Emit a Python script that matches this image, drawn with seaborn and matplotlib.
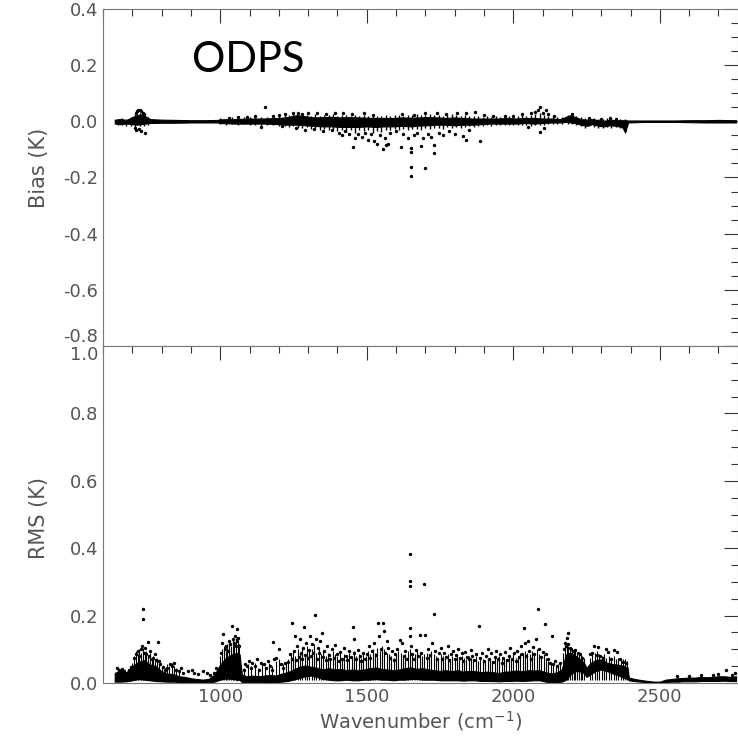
import matplotlib
matplotlib.use("Agg")
import matplotlib.pyplot as plt
import seaborn as sns
import pandas as pd
from matplotlib.ticker import MultipleLocator, FormatStrFormatter

# ---------------- data ----------------
# Bias panel: dense core band (lower / upper edge)
bias_core_wn = [640, 660, 680, 700, 715, 730, 745, 760, 800, 850, 900, 950, 990, 1000,
                1050, 1100, 1150, 1200, 1230, 1260, 1290, 1320, 1350, 1380, 1410, 1440,
                1470, 1500, 1530, 1560, 1590, 1620, 1650, 1680, 1710, 1740, 1770, 1800,
                1830, 1860, 1890, 1920, 1950, 1980, 2010, 2040, 2070, 2100, 2130, 2160,
                2180, 2195, 2210, 2230, 2250, 2270, 2290, 2310, 2330, 2350, 2370, 2382,
                2392, 2450, 2500, 2550, 2600, 2650, 2700, 2760]
bias_core_lo = [-0.008, -0.010, -0.008, -0.010, -0.012, -0.010, -0.008, -0.006, -0.005,
                -0.005, -0.004, -0.004, -0.004, -0.006, -0.008, -0.008, -0.008, -0.010,
                -0.012, -0.012, -0.014, -0.016, -0.018, -0.018, -0.020, -0.020, -0.020,
                -0.018, -0.020, -0.018, -0.018, -0.016, -0.018, -0.015, -0.014, -0.012,
                -0.012, -0.014, -0.012, -0.012, -0.010, -0.008, -0.008, -0.008, -0.008,
                -0.006, -0.008, -0.006, -0.004, -0.004, -0.002, -0.004, -0.006, -0.012,
                -0.016, -0.010, -0.016, -0.018, -0.014, -0.016, -0.020, -0.036, -0.004,
                -0.002, -0.002, -0.002, -0.003, -0.004, -0.004, -0.004]
bias_core_hi = [0.006, 0.008, 0.005, 0.015, 0.022, 0.025, 0.018, 0.008, 0.006, 0.005,
                0.004, 0.004, 0.005, 0.007, 0.008, 0.010, 0.010, 0.012, 0.015, 0.022,
                0.018, 0.014, 0.015, 0.016, 0.014, 0.015, 0.014, 0.013, 0.012, 0.012,
                0.012, 0.014, 0.013, 0.014, 0.015, 0.014, 0.012, 0.014, 0.012, 0.010,
                0.010, 0.010, 0.010, 0.012, 0.010, 0.012, 0.012, 0.010, 0.010, 0.008,
                0.016, 0.022, 0.016, 0.008, 0.006, 0.008, 0.004, 0.002, 0.006, 0.004,
                0.004, 0.004, 0.003, 0.003, 0.003, 0.003, 0.004, 0.004, 0.005, 0.004]

# Bias panel: spread of the band at single channels (jagged edge)
bias_col_wn = [650, 665, 680, 695, 710, 725, 740, 755,
               1000, 1020, 1040, 1060, 1080, 1100, 1120, 1140, 1160, 1180, 1200, 1220,
               1235, 1250, 1265, 1280, 1295, 1310, 1325, 1340, 1355, 1370, 1385, 1400,
               1415, 1430, 1445, 1460, 1475, 1490, 1505, 1520, 1535, 1550, 1565, 1580,
               1595, 1610, 1625, 1640, 1655, 1670, 1685, 1700, 1715, 1730, 1745, 1760,
               1775, 1790, 1805, 1820, 1835, 1850, 1865, 1880, 1895, 1910, 1925, 1940,
               1955, 1970, 1985, 2000, 2015, 2030, 2045, 2060, 2075, 2090, 2105, 2120,
               2135, 2150, 2165, 2185, 2200, 2215, 2230, 2245, 2260, 2275, 2290, 2305,
               2320, 2335, 2350, 2365, 2380]
bias_col_lo = [-0.014, -0.012, -0.015, -0.016, -0.020, -0.018, -0.016, -0.012,
               -0.010, -0.012, -0.010, -0.014, -0.010, -0.014, -0.012, -0.016, -0.012,
               -0.014, -0.016, -0.018,
               -0.020, -0.018, -0.022, -0.025, -0.020, -0.028, -0.024, -0.030, -0.026,
               -0.032, -0.028, -0.035, -0.030, -0.038, -0.032, -0.040, -0.030, -0.036,
               -0.032, -0.040, -0.034, -0.038, -0.032, -0.030, -0.028, -0.032, -0.026,
               -0.030, -0.028, -0.026, -0.030, -0.024, -0.028, -0.024, -0.022, -0.026,
               -0.020, -0.024, -0.020, -0.022, -0.020, -0.018, -0.020, -0.016, -0.018,
               -0.014, -0.016, -0.014, -0.012, -0.014, -0.012, -0.014, -0.012, -0.014,
               -0.012, -0.016, -0.012, -0.014, -0.012, -0.010, -0.010, -0.008, -0.008,
               -0.008, -0.010, -0.014, -0.018, -0.022, -0.016, -0.020, -0.022, -0.024,
               -0.020, -0.022, -0.020, -0.024, -0.040]
bias_col_hi = [0.010, 0.012, 0.010, 0.014, 0.026, 0.030, 0.024, 0.014,
               0.012, 0.010, 0.014, 0.012, 0.016, 0.014, 0.018, 0.014, 0.016, 0.018,
               0.020, 0.022,
               0.022, 0.028, 0.025, 0.030, 0.022, 0.020, 0.026, 0.020, 0.024, 0.022,
               0.026, 0.020, 0.022, 0.024, 0.020, 0.022, 0.020, 0.024, 0.020, 0.022,
               0.018, 0.020, 0.022, 0.020, 0.024, 0.022, 0.020, 0.024, 0.022, 0.026,
               0.022, 0.024, 0.026, 0.022, 0.024, 0.020, 0.022, 0.026, 0.024, 0.020,
               0.022, 0.018, 0.020, 0.018, 0.016, 0.018, 0.016, 0.018, 0.016, 0.020,
               0.018, 0.020, 0.018, 0.022, 0.020, 0.024, 0.026, 0.028, 0.022, 0.018,
               0.016, 0.014, 0.014, 0.024, 0.026, 0.020, 0.014, 0.012, 0.014, 0.012,
               0.010, 0.010, 0.012, 0.010, 0.012, 0.010, 0.008]

# Bias panel: scattered single points
bias_pts_wn = [712, 716, 720, 725, 730, 735, 740, 708, 714, 722, 730, 745,
               1030, 1060, 1090, 1120, 1153, 1140, 1180, 1200, 1210, 1220,
               1250, 1265, 1280, 1300, 1330, 1360, 1390, 1420, 1450, 1490, 1520,
               1260, 1290, 1320, 1350, 1380, 1405, 1414, 1425, 1440, 1453, 1460, 1470,
               1485, 1495, 1505, 1514, 1525, 1535, 1545, 1555, 1562, 1566, 1572, 1580,
               1600, 1616, 1625, 1640, 1650, 1650, 1650, 1650, 1660, 1670, 1685, 1692,
               1700, 1710, 1720, 1731, 1731, 1745, 1760, 1780, 1800, 1828, 1838, 1850, 1885,
               1620, 1660, 1700, 1740, 1770, 1808, 1840, 1868, 1900, 1930,
               1970, 2000, 2030, 2060, 2073, 2085, 2090, 2100, 2112, 2120, 2090, 2106,
               2050, 2140, 2200, 2260, 2300, 2330, 2350, 2380]
bias_pts_val = [0.030, 0.036, 0.040, 0.042, 0.038, 0.030, 0.025, -0.025, -0.030, -0.028,
                -0.035, -0.040,
                0.012, 0.015, 0.014, 0.020, 0.051, -0.020, 0.018, 0.022, -0.018, 0.025,
                0.030, 0.028, 0.025, 0.030, 0.028, 0.025, 0.030, 0.028, 0.026, 0.030, 0.024,
                -0.025, -0.030, -0.028, -0.035, -0.030, -0.040, -0.050, -0.035, -0.045,
                -0.091, -0.060, -0.045, -0.055, -0.040, -0.065, -0.044, -0.070, -0.079,
                -0.050, -0.097, -0.060, -0.085, -0.079, -0.040,
                -0.035, -0.092, -0.045, -0.060, -0.095, -0.109, -0.163, -0.196, -0.050,
                -0.040, -0.089, -0.060, -0.165, -0.045, -0.055, -0.085, -0.113, -0.040,
                -0.050, -0.035, -0.045, -0.053, -0.065, -0.030, -0.070,
                0.025, 0.022, 0.030, 0.028, 0.025, 0.031, 0.029, 0.033, 0.022, 0.020,
                0.018, 0.020, 0.025, 0.030, 0.033, 0.040, 0.051, 0.030, 0.039, 0.025,
                -0.038, -0.024, -0.020, 0.020, 0.025, 0.012, 0.010, 0.012, 0.010, -0.030]

# RMS panel: dense core band
rms_core_wn = [640, 660, 680, 700, 720, 740, 760, 780, 800, 820, 840, 860, 880, 900, 920,
               940, 960, 980, 1000, 1020, 1040, 1060, 1066, 1074, 1090, 1110, 1130, 1150,
               1170, 1190, 1210, 1230, 1250, 1270, 1290, 1310, 1330, 1350, 1370, 1390,
               1410, 1430, 1450, 1470, 1490, 1510, 1530, 1550, 1570, 1590, 1610, 1630,
               1650, 1670, 1690, 1710, 1730, 1750, 1770, 1790, 1810, 1830, 1850, 1870,
               1890, 1910, 1930, 1950, 1970, 1990, 2010, 2030, 2050, 2070, 2090, 2110,
               2130, 2150, 2165, 2180, 2195, 2210, 2225, 2240, 2250, 2262, 2280, 2300,
               2320, 2340, 2360, 2380, 2390, 2394, 2420, 2450, 2480, 2500, 2520, 2540,
               2560, 2580, 2600, 2620, 2640, 2660, 2680, 2700, 2720, 2740, 2760]
rms_core_lo = [0.004, 0.004, 0.005, 0.008, 0.012, 0.010, 0.008, 0.006, 0.005, 0.004,
               0.004, 0.003, 0.003, 0.002, 0.002, 0.002, 0.002, 0.004, 0.010, 0.014,
               0.012, 0.010, 0.010, 0.002, 0.002, 0.002, 0.002, 0.003, 0.003, 0.003,
               0.004, 0.006, 0.010, 0.015, 0.020, 0.022, 0.018, 0.012, 0.010, 0.008,
               0.008, 0.010, 0.008, 0.008, 0.010, 0.010, 0.012, 0.010, 0.010, 0.008,
               0.010, 0.010, 0.012, 0.012, 0.010, 0.010, 0.010, 0.008, 0.008, 0.008,
               0.008, 0.007, 0.008, 0.008, 0.006, 0.006, 0.006, 0.005, 0.006, 0.006,
               0.007, 0.006, 0.007, 0.008, 0.008, 0.004, 0.002, 0.003, 0.004, 0.010,
               0.025, 0.035, 0.035, 0.030, 0.018, 0.025, 0.035, 0.040, 0.035, 0.028,
               0.022, 0.015, 0.012, 0.008, 0.005, 0.003, 0.001, 0.001, 0.003, 0.004,
               0.004, 0.005, 0.005, 0.005, 0.006, 0.006, 0.006, 0.006, 0.007, 0.006, 0.006]
rms_core_hi = [0.030, 0.038, 0.032, 0.050, 0.062, 0.068, 0.055, 0.050, 0.035, 0.028,
               0.026, 0.020, 0.018, 0.014, 0.012, 0.010, 0.012, 0.025, 0.055, 0.075,
               0.085, 0.090, 0.085, 0.025, 0.020, 0.022, 0.020, 0.022, 0.024, 0.022,
               0.028, 0.032, 0.040, 0.048, 0.052, 0.048, 0.045, 0.040, 0.044, 0.040,
               0.042, 0.038, 0.040, 0.038, 0.040, 0.044, 0.046, 0.042, 0.040, 0.038,
               0.040, 0.044, 0.046, 0.042, 0.044, 0.040, 0.038, 0.036, 0.038, 0.035,
               0.038, 0.034, 0.036, 0.035, 0.032, 0.034, 0.032, 0.030, 0.033, 0.035,
               0.037, 0.035, 0.038, 0.037, 0.038, 0.032, 0.028, 0.032, 0.040, 0.085,
               0.090, 0.082, 0.072, 0.062, 0.045, 0.058, 0.068, 0.070, 0.060, 0.056,
               0.054, 0.050, 0.046, 0.016, 0.011, 0.007, 0.004, 0.004, 0.010, 0.012,
               0.014, 0.015, 0.016, 0.016, 0.018, 0.017, 0.018, 0.020, 0.020, 0.018, 0.020]

# RMS panel: tops of the single-channel spikes
rms_col_wn = [700, 706, 712, 718, 724, 730, 736, 742, 748, 754, 760, 766, 772, 778, 784,
              790, 800, 810, 818, 826, 834, 842, 850, 858,
              1000, 1006, 1012, 1018, 1024, 1030, 1036, 1042, 1048, 1054, 1060, 1065,
              1082, 1094, 1106, 1118, 1130, 1142, 1154, 1166, 1178, 1190, 1202, 1214, 1224,
              1232, 1240, 1248, 1256, 1264, 1272, 1280, 1288, 1296, 1304, 1312, 1320,
              1328, 1336, 1344, 1352, 1360, 1368, 1376, 1384, 1392, 1400, 1408, 1416,
              1424, 1432, 1440, 1448, 1456, 1464, 1472, 1480, 1488, 1496, 1504, 1512,
              1520, 1528, 1536, 1544, 1552, 1560, 1568, 1576, 1584, 1592, 1600, 1608,
              1616, 1624, 1632, 1640, 1648, 1656, 1664, 1672, 1680, 1688, 1696, 1704,
              1712, 1720, 1728, 1736, 1744, 1752, 1760, 1768, 1776, 1784, 1792, 1800,
              1808, 1816, 1824, 1832, 1840, 1848, 1856, 1864, 1872, 1880, 1888, 1896,
              1904, 1912, 1920, 1928, 1936, 1944, 1952, 1960, 1968, 1976, 1984, 1992,
              2000, 2008, 2016, 2024, 2032, 2040, 2048, 2056, 2064, 2072, 2080, 2088,
              2096, 2104, 2112, 2120, 2128, 2136, 2144, 2152, 2160,
              2170, 2176, 2182, 2188, 2194, 2200, 2206, 2212, 2218, 2224, 2230, 2236, 2242,
              2262, 2270, 2278, 2286, 2294, 2302, 2310, 2318, 2326, 2334, 2342, 2350,
              2358, 2366, 2374, 2382, 2389]
rms_col_top = [0.060, 0.080, 0.095, 0.085, 0.100, 0.090, 0.105, 0.085, 0.095, 0.080,
               0.090, 0.070, 0.080, 0.065, 0.075, 0.060, 0.050, 0.045, 0.055, 0.050,
               0.058, 0.050, 0.045, 0.040,
               0.080, 0.100, 0.110, 0.095, 0.115, 0.120, 0.110, 0.130, 0.120, 0.135,
               0.125, 0.115,
               0.045, 0.055, 0.050, 0.060, 0.045, 0.055, 0.050, 0.060, 0.050, 0.065,
               0.070, 0.055, 0.060,
               0.070, 0.085, 0.095, 0.080, 0.100, 0.090, 0.105, 0.085, 0.110, 0.095,
               0.100, 0.115, 0.090, 0.100, 0.085, 0.095, 0.080, 0.090, 0.075, 0.095,
               0.085, 0.080, 0.090, 0.075, 0.085, 0.080, 0.090, 0.075, 0.095, 0.080,
               0.085, 0.075, 0.090, 0.080, 0.095, 0.085, 0.100, 0.090, 0.105, 0.095,
               0.110, 0.100, 0.090, 0.085, 0.080, 0.075, 0.085, 0.095, 0.090, 0.080,
               0.085, 0.095, 0.100, 0.090, 0.085, 0.095, 0.090, 0.080, 0.085, 0.090,
               0.080, 0.095, 0.085, 0.080, 0.075, 0.085, 0.080, 0.075, 0.085, 0.070,
               0.080, 0.075, 0.085, 0.070, 0.080, 0.075, 0.070, 0.080, 0.075, 0.070,
               0.080, 0.065, 0.075, 0.070, 0.065, 0.075, 0.070, 0.065, 0.075, 0.070,
               0.080, 0.070, 0.075, 0.070, 0.080, 0.075, 0.085, 0.075, 0.080, 0.090,
               0.085, 0.095, 0.090, 0.085, 0.095, 0.090, 0.100, 0.085, 0.080, 0.085,
               0.075, 0.065, 0.060, 0.055, 0.050, 0.055, 0.060,
               0.090, 0.110, 0.120, 0.110, 0.105, 0.100, 0.095, 0.100, 0.090, 0.090,
               0.085, 0.080, 0.075,
               0.075, 0.085, 0.090, 0.095, 0.085, 0.080, 0.085, 0.075, 0.080, 0.070,
               0.080, 0.070, 0.075, 0.070, 0.072, 0.070, 0.065]

# RMS panel: scattered single points
rms_pts_wn = [648, 655, 665, 672, 688, 695,
              705, 712, 718, 722, 728, 733, 736, 737, 740, 745, 748, 753, 758, 762, 768,
              772, 778, 782, 787, 790, 795,
              805, 812, 820, 828, 835, 842, 850, 858, 866, 874, 890, 905, 912, 925, 940,
              955, 965, 978, 985,
              1003, 1006, 1010, 1015, 1020, 1025, 1030, 1035, 1039, 1042, 1046, 1050,
              1053, 1056, 1058, 1062, 1065, 1058,
              1080, 1085, 1092, 1098, 1105, 1110, 1118, 1125, 1132, 1140, 1148, 1155,
              1162, 1170, 1178, 1180, 1185, 1192, 1200, 1208, 1215, 1222,
              1232, 1238, 1244, 1246, 1252, 1255, 1258, 1263, 1268, 1272, 1276, 1280,
              1284, 1286, 1290, 1294, 1298, 1302, 1306, 1310, 1314, 1318, 1323, 1326,
              1330, 1334, 1338, 1342, 1346, 1350,
              1355, 1360, 1365, 1370, 1376, 1382, 1388, 1392, 1398, 1404, 1410, 1416,
              1422, 1428, 1434, 1440, 1446, 1453, 1455, 1458, 1464, 1470, 1476, 1482,
              1488, 1494, 1500, 1506, 1512, 1518, 1524, 1530, 1538, 1542, 1548, 1555,
              1558, 1562, 1568, 1574, 1580, 1586, 1592, 1598, 1604, 1613, 1620, 1626,
              1632, 1638, 1646, 1646, 1646, 1646, 1646, 1651,
              1656, 1662, 1668, 1674, 1682, 1686, 1695, 1699, 1704, 1710, 1716, 1722,
              1729, 1734, 1740, 1746, 1752, 1758, 1764, 1770, 1776, 1782, 1788, 1794,
              1800, 1806, 1812, 1818, 1824, 1830, 1836, 1842, 1848, 1854, 1860, 1866,
              1872, 1882, 1888, 1894, 1900, 1906, 1912, 1918, 1924, 1930, 1936, 1942,
              1948, 1954, 1960, 1966, 1972, 1978, 1984, 1990, 1996, 2002, 2008, 2014,
              2020, 2026, 2030, 2035, 2040, 2045, 2050, 2055, 2060, 2066, 2072, 2078,
              2083, 2088, 2094, 2100, 2107, 2112, 2118, 2124, 2131, 2136, 2142, 2150, 2158,
              2172, 2176, 2180, 2183, 2185, 2188, 2192, 2198, 2205, 2212, 2220, 2228,
              2236, 2262, 2270, 2276, 2285, 2289, 2295, 2305, 2315, 2323, 2335, 2345,
              2353, 2365, 2375, 2385,
              2560, 2600, 2640, 2680, 2700, 2727, 2745, 2755]
rms_pts_val = [0.045, 0.040, 0.042, 0.035, 0.040, 0.048,
               0.075, 0.085, 0.095, 0.080, 0.100, 0.110, 0.219, 0.189, 0.090, 0.105, 0.085,
               0.123, 0.080, 0.095, 0.070, 0.075, 0.085, 0.068, 0.123, 0.065, 0.055,
               0.048, 0.040, 0.045, 0.055, 0.050, 0.060, 0.040, 0.035, 0.045, 0.030, 0.035,
               0.040, 0.030, 0.028, 0.035, 0.030, 0.025, 0.030, 0.045,
               0.090, 0.120, 0.144, 0.100, 0.110, 0.095, 0.125, 0.115, 0.170, 0.130, 0.120,
               0.140, 0.110, 0.159, 0.125, 0.135, 0.110, 0.012,
               0.040, 0.055, 0.050, 0.065, 0.045, 0.060, 0.050, 0.070, 0.040, 0.060, 0.055,
               0.045, 0.065, 0.050, 0.040, 0.123, 0.070, 0.075, 0.100, 0.055, 0.045, 0.060,
               0.062, 0.085, 0.179, 0.072, 0.095, 0.140, 0.068, 0.110, 0.078, 0.130, 0.088,
               0.070, 0.105, 0.167, 0.082, 0.120, 0.075, 0.098, 0.140, 0.080, 0.115, 0.090,
               0.202, 0.130, 0.072, 0.105, 0.088, 0.125, 0.148, 0.078,
               0.095, 0.068, 0.110, 0.082, 0.070, 0.100, 0.075, 0.113, 0.085, 0.065, 0.092,
               0.072, 0.105, 0.080, 0.068, 0.095, 0.078, 0.167, 0.130, 0.088, 0.070, 0.098,
               0.080, 0.065, 0.090, 0.072, 0.085, 0.110, 0.075, 0.095, 0.120, 0.082, 0.178,
               0.140, 0.100, 0.178, 0.155, 0.088, 0.125, 0.105, 0.075, 0.095, 0.068, 0.085,
               0.100, 0.128, 0.119, 0.080, 0.095, 0.072, 0.383, 0.302, 0.287, 0.162, 0.138,
               0.110,
               0.085, 0.070, 0.098, 0.080, 0.143, 0.090, 0.293, 0.143, 0.075, 0.100, 0.082,
               0.120, 0.204, 0.095, 0.070, 0.088, 0.105, 0.072, 0.090, 0.078, 0.110, 0.068,
               0.085, 0.095, 0.070, 0.082, 0.100, 0.075, 0.088, 0.065, 0.092, 0.078, 0.070,
               0.098, 0.080, 0.068, 0.085, 0.168, 0.075, 0.090, 0.065, 0.080, 0.100, 0.072,
               0.088, 0.062, 0.078, 0.095, 0.070, 0.085, 0.060, 0.075, 0.092, 0.068, 0.080,
               0.105, 0.072, 0.088, 0.065, 0.095, 0.078, 0.110, 0.085, 0.162, 0.120, 0.080,
               0.125, 0.095, 0.072, 0.108, 0.085, 0.130, 0.219, 0.100, 0.078, 0.092, 0.174,
               0.085, 0.070, 0.060, 0.138, 0.055, 0.065, 0.050, 0.060,
               0.100, 0.120, 0.110, 0.135, 0.147, 0.115, 0.105, 0.100, 0.095, 0.098, 0.090,
               0.085, 0.075, 0.085, 0.090, 0.110, 0.082, 0.107, 0.080, 0.075, 0.100, 0.093,
               0.072, 0.098, 0.091, 0.070, 0.062, 0.060,
               0.020, 0.022, 0.024, 0.025, 0.028, 0.040, 0.025, 0.030]

x_ticks = [1000, 1500, 2000, 2500]
bias_ticks = [-0.8, -0.6, -0.4, -0.2, 0.0, 0.2, 0.4]
rms_ticks = [0.0, 0.2, 0.4, 0.6, 0.8, 1.0]
panel_label = "ODPS"

# ---------------- figure ----------------
sns.set_theme(style="white")
plt.rcParams["font.family"] = ["DejaVu Sans"]

W, H = 738, 746
fig = plt.figure(figsize=(W / 100, H / 100), dpi=100)
left, right = 103 / W, 737.5 / W
ax_b = fig.add_axes([left, 1 - 346 / H, right - left, 337 / H])
ax_r = fig.add_axes([left, 1 - 683 / H, right - left, 337 / H])

bias_pts = pd.DataFrame({"wn": bias_pts_wn, "val": bias_pts_val})
rms_pts = pd.DataFrame({"wn": rms_pts_wn, "val": rms_pts_val})

# Bias panel
ax_b.fill_between(bias_core_wn, bias_core_lo, bias_core_hi, color="black", lw=0.8)
ax_b.vlines(bias_col_wn, bias_col_lo, bias_col_hi, color="black", lw=1.0)
sns.scatterplot(data=bias_pts, x="wn", y="val", ax=ax_b, color="black", s=6,
                linewidth=0, marker="o", legend=False)

# RMS panel
ax_r.fill_between(rms_core_wn, rms_core_lo, rms_core_hi, color="black", lw=0.8)
ax_r.vlines(rms_col_wn, 0.01, rms_col_top, color="black", lw=0.8)
sns.scatterplot(data=rms_pts, x="wn", y="val", ax=ax_r, color="black", s=6,
                linewidth=0, marker="o", legend=False)

for ax in (ax_b, ax_r):
    ax.set_xlim(600, 2765)
    ax.set_xticks(x_ticks)
    ax.xaxis.set_minor_locator(MultipleLocator(100))
    ax.yaxis.set_minor_locator(MultipleLocator(0.05))
    ax.yaxis.set_major_formatter(FormatStrFormatter("%.1f"))
    ax.tick_params(which="both", direction="in", top=True, right=True,
                   color="#333333", width=0.8, labelsize=13, labelcolor="#555555")
    ax.tick_params(which="major", length=10)
    ax.tick_params(which="minor", length=5)
    for sp in ax.spines.values():
        sp.set_color("#777777")
        sp.set_linewidth(0.8)
    ax.set_facecolor("white")

ax_b.set_ylim(-0.8, 0.4)
ax_b.set_yticks(bias_ticks)
ax_b.tick_params(labelbottom=False)
ax_b.set_xlabel("")
ax_b.set_ylabel("Bias (K)", fontsize=15, color="#555555")
ax_b.yaxis.set_label_coords(-0.085, 0.53)
ax_b.text(903, 0.176, panel_label, fontsize=30, color="black",
          family=["Lato", "DejaVu Sans"], va="baseline", ha="left")

ax_r.set_ylim(0.0, 1.0)
ax_r.set_yticks(rms_ticks)
ax_r.set_ylabel("RMS (K)", fontsize=15, color="#555555")
ax_r.yaxis.set_label_coords(-0.085, 0.49)
ax_r.set_xlabel("Wavenumber (cm$^{-1}$)", fontsize=14, color="#555555", labelpad=2)

# the -0.8 and 1.0 labels meet at the panel join: nudge them apart
ax_b.yaxis.get_major_ticks()[0].label1.set_verticalalignment("bottom")
ax_r.yaxis.get_major_ticks()[-1].label1.set_verticalalignment("top")

fig.savefig("out.png", dpi=100, facecolor="white")
